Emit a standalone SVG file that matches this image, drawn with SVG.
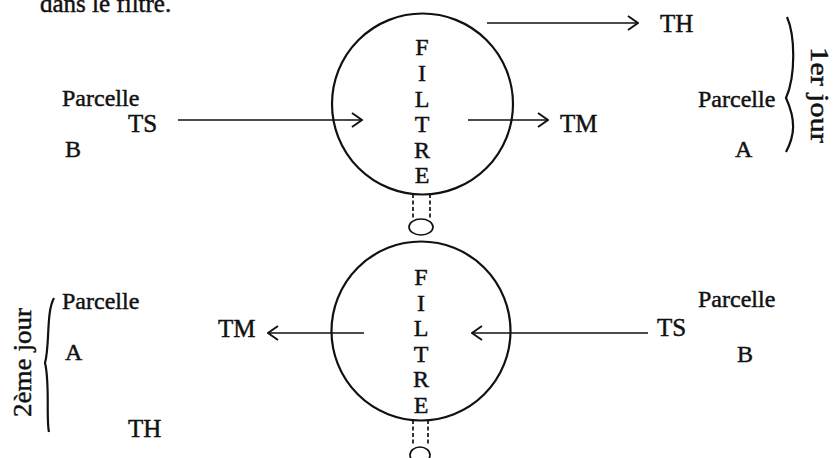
<svg xmlns="http://www.w3.org/2000/svg" width="833" height="458" viewBox="0 0 833 458">
<style>
text{font-family:"Liberation Serif","Times New Roman",serif;fill:#111;stroke:#111;stroke-width:0.45}
.lab{font-size:24px}
.big{font-size:25px}
.fl{font-size:24px;text-anchor:middle}
.circ{fill:none;stroke:#111;stroke-width:2.2}
.ln{fill:none;stroke:#111;stroke-width:1.7}
.dash{fill:none;stroke:#111;stroke-width:1.7;stroke-dasharray:4 2.5}
.brace{fill:none;stroke:#111;stroke-width:2.2}
</style>
<defs>
<marker id="ah" viewBox="0 0 12 16" refX="11" refY="8" markerWidth="12" markerHeight="16" markerUnits="userSpaceOnUse" orient="auto">
<path d="M1,1 L11,8 L1,15" fill="none" stroke="#111" stroke-width="1.9"/>
</marker>
</defs>
<rect width="833" height="458" fill="#fff"/>
<text class="big" x="40" y="12">dans le filtre.</text>

<g id="filtre1">
<circle class="circ" cx="422.5" cy="104" r="90.5"/>
<text class="fl" x="422" y="55">F</text>
<text class="fl" x="422" y="81">I</text>
<text class="fl" x="422" y="107">L</text>
<text class="fl" x="422" y="132">T</text>
<text class="fl" x="422" y="158">R</text>
<text class="fl" x="422" y="183">E</text>
<line class="dash" x1="413" y1="194" x2="413" y2="219"/>
<line class="dash" x1="430" y1="194" x2="430" y2="219"/>
<ellipse class="ln" cx="421" cy="227" rx="12" ry="8"/>
</g>

<g id="filtre2">
<circle class="circ" cx="421" cy="331" r="89.5"/>
<text class="fl" x="421" y="285">F</text>
<text class="fl" x="421" y="311">I</text>
<text class="fl" x="421" y="336">L</text>
<text class="fl" x="421" y="362">T</text>
<text class="fl" x="421" y="387">R</text>
<text class="fl" x="421" y="413">E</text>
<line class="dash" x1="413" y1="420" x2="413" y2="444"/>
<line class="dash" x1="428" y1="420" x2="428" y2="444"/>
<ellipse class="ln" cx="420" cy="455" rx="10" ry="8"/>
</g>

<g id="jour1">
<text class="lab" x="62" y="106">Parcelle</text>
<text class="big" x="128" y="132">TS</text>
<text class="lab" x="65" y="157">B</text>
<text class="big" x="560" y="132">TM</text>
<text class="big" x="660" y="32">TH</text>
<text class="lab" x="698" y="107">Parcelle</text>
<text class="lab" x="735" y="157">A</text>
<path class="brace" d="M787,17 C795,35 796,75 786,98 C796,120 795,135 786,152"/>
<text class="big" x="811" y="47" transform="rotate(90 811 47)" textLength="96" lengthAdjust="spacingAndGlyphs">1er jour</text>
</g>

<g id="jour2">
<text class="lab" x="62" y="309">Parcelle</text>
<text class="lab" x="65" y="360">A</text>
<text class="big" x="128" y="437">TH</text>
<text class="big" x="218" y="337">TM</text>
<text class="big" x="657" y="336">TS</text>
<text class="lab" x="698" y="307">Parcelle</text>
<text class="lab" x="737" y="362">B</text>
<path class="brace" d="M54,298 C46,312 50,345 45,363 C50,382 46,420 49,432"/>
<text class="big" x="31" y="417" transform="rotate(-90 31 417)" textLength="109" lengthAdjust="spacingAndGlyphs">2ème jour</text>
</g>

<g id="connectors">
<line class="ln" x1="487" y1="23" x2="638" y2="23" marker-end="url(#ah)"/>
<line class="ln" x1="178" y1="120" x2="362" y2="120" marker-end="url(#ah)"/>
<line class="ln" x1="468" y1="120" x2="548" y2="120" marker-end="url(#ah)"/>
<line class="ln" x1="364" y1="333" x2="268" y2="333" marker-end="url(#ah)"/>
<line class="ln" x1="648" y1="333" x2="472" y2="333" marker-end="url(#ah)"/>
</g>
</svg>
